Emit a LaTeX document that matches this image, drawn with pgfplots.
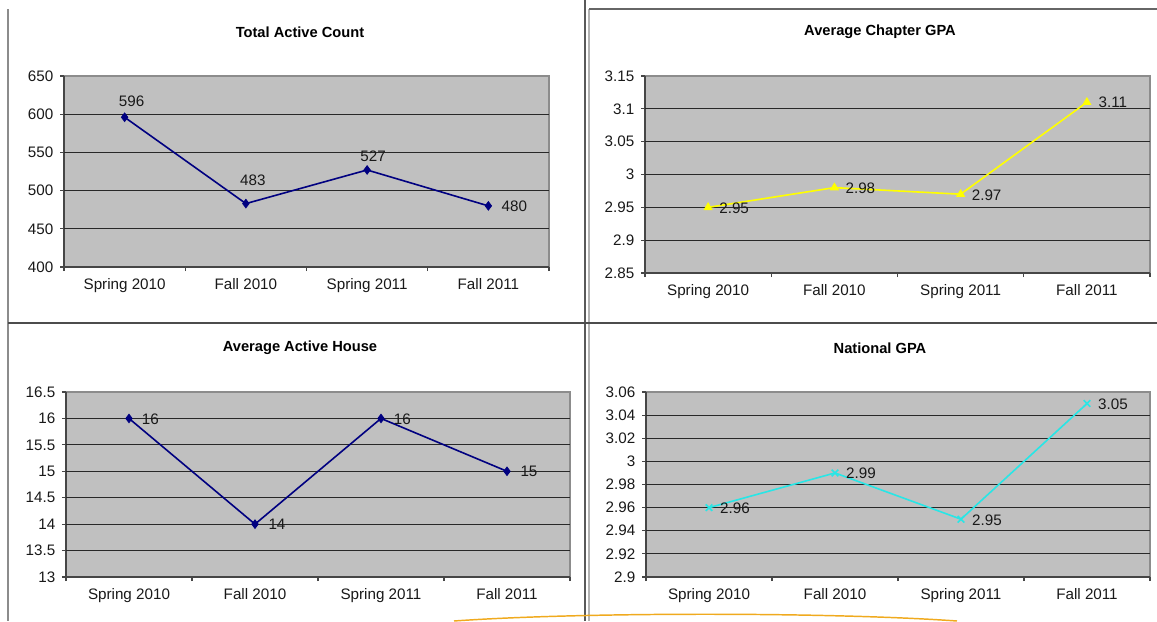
\documentclass[border=0pt]{standalone}
\usepackage{pgfplots}
\pgfplotsset{compat=1.18}
\usepackage{fontspec}
\setmainfont{Liberation Sans}
\definecolor{plotgray}{RGB}{192,192,192}
\definecolor{edgegray}{RGB}{140,140,140}
\definecolor{axcol}{RGB}{70,70,70}
\definecolor{gridcol}{RGB}{40,40,40}
\definecolor{labcol}{RGB}{25,25,25}
\definecolor{navyc}{RGB}{0,0,128}
\definecolor{yellowc}{RGB}{255,255,0}
\definecolor{cyanc}{RGB}{40,230,230}
\definecolor{orangec}{RGB}{240,170,30}
\pgfplotsset{
 panel/.style={
  scale only axis,
  axis x line=bottom, axis y line=left,
  axis line style={-, draw=axcol, line width=0.8pt},
  axis background/.style={fill=plotgray, draw=edgegray, line width=0.8pt},
  xmin=0, xmax=4,
  xtick={0,1,2,3,4}, xticklabels={},
  extra x ticks={0.5,1.5,2.5,3.5},
  extra x tick labels={Spring 2010,Fall 2010,Spring 2011,Fall 2011},
  extra x tick style={major tick length=0pt},
  tick align=outside,
  major tick length=3pt,
  tick style={draw=axcol, line width=0.8pt},
  tick label style={font=\fontsize{11.4}{13}\selectfont, text=labcol},
  x tick label style={yshift=-5pt},
  y tick label style={xshift=-1.5pt},
  /pgf/number format/assume math mode=true,
  extra y tick labels={},
  extra y tick style={grid=major, major tick length=0pt},
  major grid style={draw=gridcol, line width=0.8pt},
  clip=false,
  point meta=explicit symbolic,
  nodes near coords,
  every node near coord/.append style={font=\fontsize{11.4}{13}\selectfont, text=labcol, anchor=center, xshift=\dx pt, yshift=\dy pt},
 },
}
\begin{document}
\begin{tikzpicture}
\begin{scope}[x=0.75pt,y=-0.75pt]
\fill[white] (0,0) rectangle (1157,621);
\useasboundingbox (0,0) rectangle (1157,621);
% panel frames
\draw[black!45, line width=0.8pt] (8,9) -- (8,621);
\draw[black!65, line width=1.5pt] (585,0) -- (585,621);
\draw[black!30, line width=0.8pt] (589,9) -- (589,621);
\draw[black!70, line width=1.6pt] (8,323) -- (1157,323);
\draw[black!60, line width=1.1pt] (589,9) -- (1157,9);
% titles
\node[font=\bfseries\fontsize{11}{13}\selectfont] at (300,32) {Total Active Count};
\node[font=\bfseries\fontsize{11}{13}\selectfont] at (880,32) {Average Chapter GPA};
\node[font=\bfseries\fontsize{11}{13}\selectfont] at (300,348) {Average Active House};
\node[font=\bfseries\fontsize{11}{13}\selectfont] at (880,348) {National GPA};
\end{scope}

% Panel 1
\begin{axis}[panel, at={(48pt,-200.25pt)}, anchor=south west, width=363.75pt, height=143.25pt,
  ymin=400, ymax=650, ytick={400,450,500,550,600,650}, extra y ticks={450,500,550,600}]
\addplot[color=navyc, line width=1.2pt, mark=diamond*, mark size=3.2pt, mark options={fill=navyc, line width=0.6pt},
  visualization depends on={\thisrow{dx}\as\dx}, visualization depends on={\thisrow{dy}\as\dy}]
  table[x=x, y=y, meta=lab] {
x y lab dx dy
0.5 596 596 5.25 11.7
1.5 483 483 5.25 17.5
2.5 527 527 4.5 10
3.5 480 480 19.5 0
};
\end{axis}

% Panel 2
\begin{axis}[panel, at={(483.75pt,-204.75pt)}, anchor=south west, width=378.75pt, height=147.75pt,
  ymin=2.85, ymax=3.15, ytick={2.85,2.9,2.95,3,3.05,3.1,3.15}, extra y ticks={2.9,2.95,3,3.05,3.1}]
\addplot[color=yellowc, line width=1.2pt, mark=triangle*, mark size=3.4pt, mark options={fill=yellowc, line width=0.6pt},
  visualization depends on={\thisrow{dx}\as\dx}, visualization depends on={\thisrow{dy}\as\dy}]
  table[x=x, y=y, meta=lab] {
x y lab dx dy
0.5 2.95 2.95 19.5 -0.75
1.5 2.98 2.98 19.5 -0.5
2.5 2.97 2.97 19.5 -0.5
3.5 3.11 3.11 19.5 0
};
\end{axis}

% Panel 3
\begin{axis}[panel, at={(49.5pt,-432.75pt)}, anchor=south west, width=378pt, height=138.75pt,
  ymin=13, ymax=16.5, ytick={13,13.5,14,14.5,15,15.5,16,16.5}, extra y ticks={13.5,14,14.5,15,15.5,16}]
\addplot[color=navyc, line width=1.2pt, mark=diamond*, mark size=3.2pt, mark options={fill=navyc, line width=0.6pt},
  visualization depends on={\thisrow{dx}\as\dx}, visualization depends on={\thisrow{dy}\as\dy}]
  table[x=x, y=y, meta=lab] {
x y lab dx dy
0.5 16 16 16 -0.4
1.5 14 14 16.5 -0.4
2.5 16 16 16 -0.4
3.5 15 15 16.5 -0.4
};
\end{axis}

% Panel 4
\begin{axis}[panel, at={(484.5pt,-432.75pt)}, anchor=south west, width=378pt, height=138.75pt,
  ymin=2.9, ymax=3.06, ytick={2.9,2.92,2.94,2.96,2.98,3,3.02,3.04,3.06}, extra y ticks={2.92,2.94,2.96,2.98,3,3.02,3.04}]
\addplot[color=cyanc, line width=1.2pt, mark=x, mark size=3.5pt,
  visualization depends on={\thisrow{dx}\as\dx}, visualization depends on={\thisrow{dy}\as\dy}]
  table[x=x, y=y, meta=lab] {
x y lab dx dy
0.5 2.96 2.96 19.5 -0.75
1.5 2.99 2.99 19.5 -0.3
2.5 2.95 2.95 19.5 -0.8
3.5 3.05 3.05 19.5 -0.3
};
\end{axis}

% decorative arc
\begin{scope}[x=0.75pt,y=-0.75pt]
\draw[orangec, line width=1.1pt] (454,621) .. controls (580,612) and (830,612) .. (957,621);
\end{scope}
\end{tikzpicture}
\end{document}
